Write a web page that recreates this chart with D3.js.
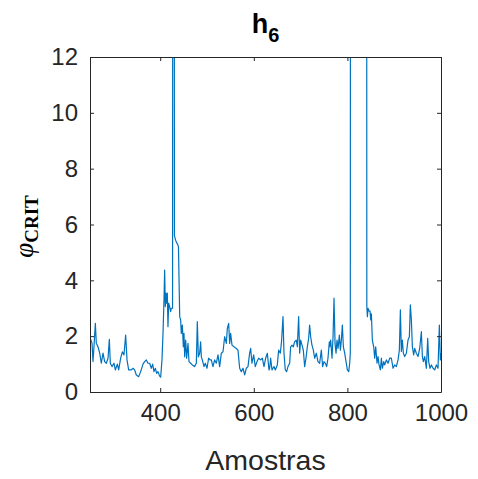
<!DOCTYPE html>
<html><head><meta charset="utf-8">
<script src="https://cdn.jsdelivr.net/npm/d3@7"></script>
<style>body{margin:0;background:#fff}</style>
</head><body>
<script>
const samples = [250,251.4,254.3,256.4,258.5,261.4,263.5,267.1,270.7,274.2,277.8,281.3,284.9,288.5,291.3,293.4,297,301.3,304.1,308.4,311.3,315.5,319.1,322.6,326.2,329.1,332.6,338.3,341.9,345.4,349,354,358.3,363.2,366.8,370.3,373.9,
377.5,381,383.9,386.7,389.6,392.4,395.3,398.8,401,403.8,406,408.1,409.5,410.9,412.4,413.8,415.2,416.6,418.1,420.2,422.3,423.8,426.4,427.8,429,430.4,432.7,435,437,439,441.7,
443.7,445.1,447.3,449.4,450.8,452.3,454.4,456.5,459.4,461.5,465.1,468.6,473.6,477.2,479.3,481.5,484.3,486.4,487.9,490,493.6,496.4,500,503.5,506.4,
509.2,512.8,516.3,519.9,523.5,527,530.6,534.2,537.7,541.3,543.4,546.3,548.4,550.5,553.4,557.7,562.6,566.2,569.8,573.3,576.9,580.5,584,587.6,591.1,593.3,596.1,599.7,603.2,606.8,610.4,614.6,618.2,621.8,625.3,628.9,632.5,
633.9,636,638.9,643.1,646,650.2,653.1,656.7,659.5,662.4,664.5,667.3,670.2,673,676.6,678.7,681.6,684.4,687.3,690.8,693,695.8,698,700.1,703,705.8,708.7,711.5,714.4,717.2,719.3,721.5,724.3,727.2,730,733.6,737.1,740.7,744.3,747.1,750,752.8,755.7,758.5,761.4,
762.2,764.3,767.1,769.3,771.4,773.6,775.7,777.8,780,782.8,785,787.1,789.2,791.4,794.2,797.1,799.9,802.8,804.9,806.2,807.3,840.5,841.5,
842.7,844.1,846.2,848.4,849.8,851.2,853.3,856.2,858.3,860.5,863.3,865.4,867.6,870.4,872.6,874.7,877.6,879.7,883.3,886.8,890.4,
893.9,897.5,901,904.6,908.2,911,913.2,915.3,917.4,919.6,922.4,926,929.5,932.4,934.5,936.7,938.8,941.6,943.8,947.3,950.9,954.5,958,960.2,962.3,965.2,968.7,971.6,973.7,976.5,979.4,983,986.5,990.1,993.6,996.5,998.6,1000];
const values = [1.9,1.89,1.75,1.09,1.62,2.46,1.75,1.62,1.39,1.03,1.39,1.09,1.03,1.21,1.89,1.03,0.91,1.03,0.79,1.0,0.79,1.21,1.44,1.33,2.04,1.15,0.79,0.79,0.85,0.79,0.61,0.55,0.73,1.0,1.09,1.15,1.03,
1.03,0.85,1.0,0.73,0.85,0.67,0.73,0.57,0.53,1.15,2.1,3.3,4.37,3.06,3.54,3.18,3.54,2.34,3.18,3.06,2.88,3.0,3.0,60,60,5.6,5.45,5.35,5.3,5.2,2.7,
2.58,2.1,2.4,1.62,2.1,1.26,1.86,1.21,1.74,1.09,1.03,0.97,0.91,1.03,2.52,1.26,1.39,1.8,1.26,1.15,0.91,1.03,0.85,1.21,1.15,
1.15,0.91,1.15,1.03,1.33,0.91,1.39,1.44,1.98,1.74,2.28,2.46,1.74,2.1,1.68,1.62,1.56,1.5,0.85,0.73,0.85,0.61,0.85,0.91,1.39,1.56,1.03,1.33,0.91,1.09,1.21,1.15,1.21,0.91,1.21,1.39,0.79,
0.85,1.21,0.79,0.91,0.79,0.97,1.5,1.39,1.86,2.7,1.39,0.79,0.73,0.91,1.03,1.62,1.68,1.62,1.8,1.86,1.62,2.7,1.39,1.86,1.68,1.5,0.91,1.21,1.62,1.92,2.4,1.98,1.68,1.5,1.21,1.39,1.09,1.03,1.5,0.91,1.09,1.03,0.91,1.21,1.8,
1.62,1.86,1.21,1.98,3.36,1.74,1.39,1.86,1.56,2.04,1.5,1.86,2.4,1.62,1.39,1.09,0.79,0.73,1.03,1.4,60,60,3.06,
2.7,3.0,2.9,2.9,2.58,2.8,1.86,1.62,1.21,1.62,1.03,1.27,0.97,0.79,1.21,0.85,1.09,0.97,1.15,1.03,1.21,
1.21,0.85,0.97,0.91,1.15,1.5,2.94,1.45,1.86,1.39,1.27,1.39,1.86,1.98,3.12,2.58,1.62,1.33,1.56,1.39,1.27,1.56,2.16,1.27,1.09,1.27,0.85,1.92,1.09,0.85,0.97,0.85,0.79,0.97,0.85,2.4,1.15,1.4];
const xTicks = [400,600,800,1000];
const yTicks = [0,2,4,6,8,10,12];
const xDomain = [250,1000];
const yDomain = [0,12];
const titleMain = "h", titleSub = "6";
const xLabel = "Amostras";

const W = 478, H = 479;
const m = {left:90, right:37, top:57, bottom:87};
const iw = W - m.left - m.right, ih = H - m.top - m.bottom;
const axisColor = "#262626";
const svg = d3.select("body").append("svg").attr("width",W).attr("height",H)
  .style("font-family","'Liberation Sans', Arial, Helvetica, sans-serif");

const x = d3.scaleLinear().domain(xDomain).range([0, iw]);
const y = d3.scaleLinear().domain(yDomain).range([ih, 0]);
const g = svg.append("g").attr("transform",`translate(${m.left},${m.top})`);

g.append("clipPath").attr("id","clip").append("rect").attr("width",iw).attr("height",ih);

const data = samples.map((s,i)=>({s, v: values[i]}));
g.append("path").datum(data)
  .attr("clip-path","url(#clip)")
  .attr("fill","none").attr("stroke","#0072BD").attr("stroke-width",1.2)
  .attr("stroke-linejoin","round")
  .attr("d", d3.line().x(d=>x(d.s)).y(d=>y(d.v)));

const tl = 4;
const fmt = d3.format("d");
const ax = g.append("g").attr("transform",`translate(0,${ih})`)
  .call(d3.axisBottom(x).tickValues(xTicks).tickFormat(fmt).tickSizeInner(-tl).tickSizeOuter(0).tickPadding(12));
const ay = g.append("g")
  .call(d3.axisLeft(y).tickValues(yTicks).tickFormat(fmt).tickSizeInner(-tl).tickSizeOuter(0).tickPadding(12));
const axT = g.append("g").call(d3.axisTop(x).tickValues(xTicks).tickSizeInner(-tl).tickSizeOuter(0).tickFormat(""));
const ayR = g.append("g").attr("transform",`translate(${iw},0)`)
  .call(d3.axisRight(y).tickValues(yTicks).tickSizeInner(-tl).tickSizeOuter(0).tickFormat(""));
[ax,ay,axT,ayR].forEach(a=>{
  a.selectAll("path").attr("stroke",axisColor).attr("stroke-width",1);
  a.selectAll("line").attr("stroke",axisColor).attr("stroke-width",1);
  a.selectAll("text").attr("fill",axisColor).style("font-size","24px").style("font-family","'Liberation Sans', Arial, sans-serif");
});
ax.selectAll("text").attr("dy","0.71em");

// title
const t = svg.append("text").attr("x", m.left + iw/2).attr("y", 33)
  .attr("text-anchor","middle").attr("fill","#000").style("font-weight","bold").style("font-size","27px");
t.append("tspan").text(titleMain);
t.append("tspan").attr("dy",9).style("font-size","20px").text(titleSub);

// x label
svg.append("text").attr("x", m.left + iw/2).attr("y", 470).attr("text-anchor","middle")
  .attr("fill",axisColor).style("font-size","28.5px").text(xLabel);

// y label
const yl = svg.append("text").attr("transform",`translate(33,${m.top+ih/2 + 2}) rotate(-90)`)
  .attr("text-anchor","middle").attr("fill","#000")
  .style("font-family","'Liberation Serif', 'DejaVu Serif', serif");
yl.append("tspan").style("font-style","italic").style("font-size","27px").text("φ");
yl.append("tspan").attr("dy",5).style("font-weight","bold").style("font-size","19px").text("CRIT");
</script>
</body></html>
